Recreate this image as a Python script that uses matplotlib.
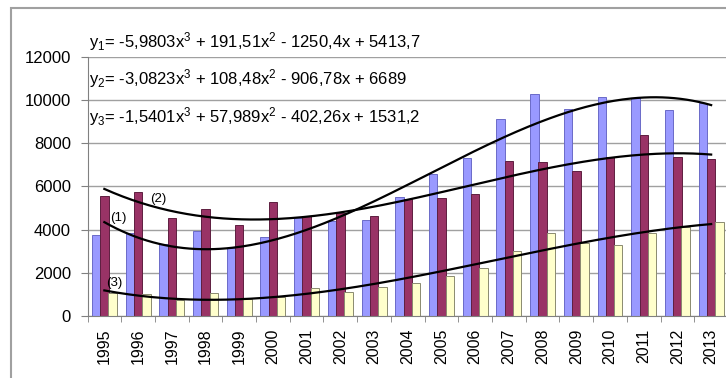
import numpy as np
import matplotlib.pyplot as plt
from matplotlib.patches import Rectangle

plt.rcParams['font.family'] = ['Liberation Sans', 'DejaVu Sans']
plt.rcParams['mathtext.default'] = 'regular'

# годы и три ряда значений
years = list(range(1995, 2014))
series1 = [3750, 3860, 3320, 3920, 3150, 3680, 4560, 4420, 4450, 5500,
           6580, 7340, 9110, 10270, 9580, 10130, 10090, 9550, 9890]
series2 = [5570, 5760, 4520, 4940, 4200, 5290, 4630, 4790, 4650, 5420,
           5450, 5650, 7180, 7120, 6700, 7350, 8390, 7350, 7290]
series3 = [1080, 1020, 740, 1050, 770, 900, 1280, 1130, 1330, 1545,
           1870, 2240, 3010, 3830, 3370, 3300, 3830, 4140, 4370]

# коэффициенты полиномиальных трендов 3-й степени (x = 1..19)
coef1 = [-5.9803, 191.51, -1250.4, 5413.7]
coef2 = [-3.0823, 108.48, -906.78, 6689]
coef3 = [-1.5401, 57.989, -402.26, 1531.2]

eq_texts = [
    'y$_1$= -5,9803x$^3$ + 191,51x$^2$ - 1250,4x + 5413,7',
    'y$_2$= -3,0823x$^3$ + 108,48x$^2$ - 906,78x + 6689',
    'y$_3$= -1,5401x$^3$ + 57,989x$^2$ - 402,26x + 1531,2',
]

W, H = 726, 378
fig = plt.figure(figsize=(W / 100, H / 100), dpi=100)
ax = fig.add_axes([87.5 / W, (H - 316) / H, 640.5 / W, 259 / H])

x = np.arange(len(years))
bw = 0.25
ax.bar(x - 0.245, series1, bw, color='#9999FF', edgecolor='#6a6ac8', linewidth=0.7, zorder=2)
ax.bar(x, series2, bw, color='#993366', edgecolor='#5e1f40', linewidth=0.7, zorder=2)
ax.bar(x + 0.245, series3, bw, color='#FFFFCC', edgecolor='#8a8a70', linewidth=0.7, zorder=2)

# линии тренда
t = np.linspace(1, len(years), 200)
for coef in (coef1, coef2, coef3):
    ax.plot(t - 1, np.polyval(coef, t), color='black', lw=1.6, zorder=3)

ax.text(0.4, 4550, '(1)', fontsize=9.5, ha='center', va='center', zorder=4)
ax.text(1.6, 5400, '(2)', fontsize=9.5, ha='center', va='center', zorder=4)
ax.text(0.3, 1530, '(3)', fontsize=9.5, ha='center', va='center', zorder=4)

ax.set_xlim(-0.5, len(years) - 0.5)
ax.set_ylim(0, 12000)
ax.set_yticks(range(0, 12001, 2000))
ax.yaxis.grid(True, color='#a0a0a0', lw=1, zorder=0)
ax.set_axisbelow(True)

ax.set_xticks(x)
ax.set_xticklabels([str(y) for y in years], rotation=90, fontsize=11.5)
ax.set_xticks(np.arange(-0.5, len(years), 1), minor=True)
ax.tick_params(axis='x', which='major', length=0, pad=9)
ax.tick_params(axis='x', which='minor', length=4, color='#808080', direction='out')
ax.tick_params(axis='y', length=5, color='#808080', pad=7, labelsize=12)

for side in ('top', 'right'):
    ax.spines[side].set_visible(False)
for side in ('left', 'bottom'):
    ax.spines[side].set_color('#808080')

for i, s in enumerate(eq_texts):
    fig.text(89 / W, (H - (47 + 37.5 * i)) / H, s, fontsize=12, va='baseline', ha='left')

# внешняя рамка области диаграммы
fig.patches.append(Rectangle((11 / W, -0.1), 1.2, (H - 8) / H + 0.1,
                             transform=fig.transFigure, fill=False,
                             edgecolor='#a0a0a0', lw=1.5))

fig.savefig('out.png', dpi=100)
